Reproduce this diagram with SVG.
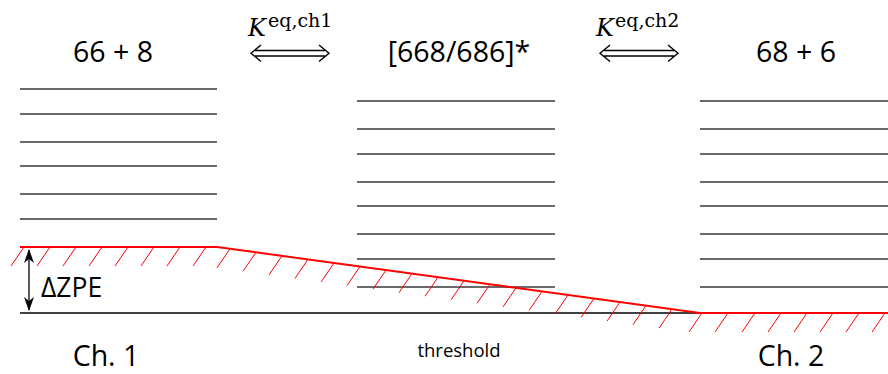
<svg xmlns="http://www.w3.org/2000/svg" width="888" height="374" viewBox="0 0 888 374">
<defs>
<style>
.lvl{stroke:#3a3a3a;stroke-width:1.3;fill:none}
.red{stroke:#ff0000;stroke-width:2;fill:none}
.hatch{stroke:#ff0000;stroke-width:1;fill:none}
.lbl{font-family:"Open Sans","Liberation Sans",sans-serif;fill:#000}
.big{font-size:28.5px;text-anchor:middle}
.math{font-family:"DejaVu Serif","Liberation Serif",serif;fill:#000}
.dbl{stroke:#000;stroke-width:1.4;fill:none}
</style>
<marker id="ah" viewBox="0 0 14 10" refX="13" refY="5" markerWidth="14" markerHeight="10" markerUnits="userSpaceOnUse" orient="auto-start-reverse">
<path d="M0,0 L14,5 L0,10 L4,5 Z" fill="#000"/>
</marker>
</defs>
<rect width="888" height="374" fill="#fff"/>

<g id="ch1">
<path class="lvl" d="M20,89H217M20,114H217M20,142H217M20,166H217M20,194H217M20,219H217"/>
<text class="lbl big" x="113" y="62">66 + 8</text>
<text class="lbl big" x="106" y="366">Ch. 1</text>
</g>

<g id="complex">
<path class="lvl" d="M357,101H555M357,129H555M357,154H555M357,182H555M357,206H555M357,234H555M357,259H555M357,287H555"/>
<text class="lbl big" x="459" y="62">[668/686]*</text>
<text class="lbl" x="459" y="357" font-size="18.5" text-anchor="middle">threshold</text>
</g>

<g id="ch2">
<path class="lvl" d="M700,101H888M700,129H888M700,154H888M700,182H888M700,206H888M700,234H888M700,259H888M700,287H888"/>
<text class="lbl big" x="796" y="62">68 + 6</text>
<text class="lbl big" x="791" y="366">Ch. 2</text>
</g>

<g id="baseline">
<line x1="20" y1="313" x2="700" y2="313" stroke="#000" stroke-width="1.3"/>
</g>

<g id="barrier">
<polyline class="red" points="20,247 217,247 700,313 888,313"/>
<path class="hatch" d="M24,247l-13,19M50,247l-13,19M76,247l-13,19M102,247l-13,19M128,247l-13,19M154,247l-13,19M180,247l-13,19M206,247l-13,19
M230,248.8l-13,19M256,252.3l-13,19M282,255.9l-13,19M308,259.4l-13,19M334,263l-13,19M360,266.5l-13,19M386,270.1l-13,19M412,273.6l-13,19M438,277.2l-13,19M464,280.8l-13,19M490,284.3l-13,19M516,287.9l-13,19M542,291.4l-13,19M568,295l-13,19M594,298.5l-13,19M620,302.1l-13,19M646,305.6l-13,19M672,309.2l-13,19
M702,313l-13,19M728,313l-13,19M755,313l-13,19M781,313l-13,19M807,313l-13,19M833,313l-13,19M859,313l-13,19M885,313l-13,19"/>
</g>

<g id="connectors">
<g id="eq1">
<path class="dbl" d="M255,50.5H325M255,56H325M261,45L251,53.2L261,61.5M319,45L329,53.2L319,61.5"/>
<text class="math" x="248" y="36" font-size="24" font-style="italic">K</text>
<text class="math" x="268" y="27" font-size="19">eq,ch1</text>
</g>
<g id="eq2">
<path class="dbl" d="M604,50.5H674M604,56H674M610,45L600,53.2L610,61.5M668,45L678,53.2L668,61.5"/>
<text class="math" x="596" y="36" font-size="24" font-style="italic">K</text>
<text class="math" x="615" y="27" font-size="19">eq,ch2</text>
</g>
<g id="dzpe">
<line x1="29" y1="250" x2="29" y2="310" stroke="#000" stroke-width="1.3" marker-start="url(#ah)" marker-end="url(#ah)"/>
<text class="lbl" x="41" y="297" font-size="26.5">ΔZPE</text>
</g>
</g>
</svg>
